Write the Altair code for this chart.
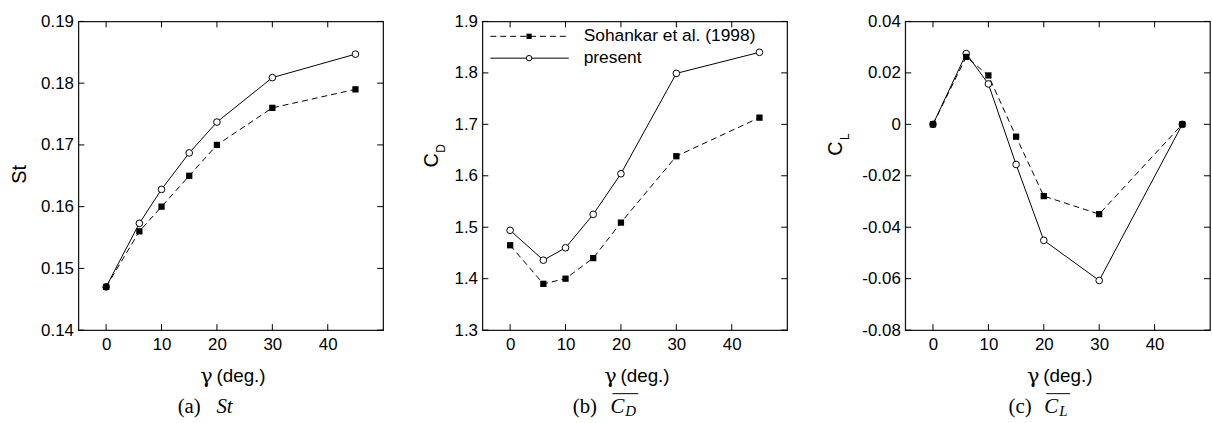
import altair as alt
import pandas as pd

# ---------------- data ----------------
gamma = [0, 6, 10, 15, 20, 30, 45]
series_names = ["Sohankar et al. (1998)", "present"]

st_sohankar = [0.147, 0.156, 0.160, 0.165, 0.170, 0.176, 0.179]
st_present = [0.147, 0.1573, 0.1628, 0.1687, 0.1737, 0.1809, 0.1847]

cd_sohankar = [1.465, 1.390, 1.400, 1.440, 1.509, 1.638, 1.713]
cd_present = [1.494, 1.436, 1.460, 1.525, 1.604, 1.799, 1.840]

cl_sohankar = [0.0, 0.0262, 0.0190, -0.0048, -0.0279, -0.0349, 0.0]
cl_present = [0.0, 0.0275, 0.0157, -0.0156, -0.0451, -0.0607, 0.0]

x_ticks = [0, 10, 20, 30, 40]
st_ticks = [0.14, 0.15, 0.16, 0.17, 0.18, 0.19]
cd_ticks = [1.3, 1.4, 1.5, 1.6, 1.7, 1.8, 1.9]
cl_ticks = [-0.08, -0.06, -0.04, -0.02, 0.0, 0.02, 0.04]

x_title_symbol = "γ"
x_title_rest = "(deg.)"

# ---------------- layout / style ----------------
W, H = 307, 311
SANS = "Liberation Sans"
SERIF = "Liberation Serif"
TICK = 6
DASH = [6, 4]


def txt(x, y, s, size, font=SANS, angle=0, style="normal", align="center", baseline="middle"):
    return alt.Chart(pd.DataFrame({"t": [s]})).mark_text(
        font=font, fontSize=size, fontStyle=style, angle=angle, align=align,
        baseline=baseline, color="black"
    ).encode(x=alt.value(x), y=alt.value(y), text="t:N")


def hrule(x1, x2, y, dash=None, width=1.0, color="black"):
    kw = dict(color=color, strokeWidth=width)
    if dash:
        kw["strokeDash"] = dash
    return alt.Chart(pd.DataFrame({"k": [0]})).mark_rule(**kw).encode(
        x=alt.value(x1), x2=alt.value(x2), y=alt.value(y))


def panel(soh, pre, ydom, yticks, yexpr, ytitle_layers, caption_layers, anchor, legend=False):
    xs = alt.Scale(domain=[-5, 50], nice=False, zero=False)
    ys = alt.Scale(domain=ydom, nice=False, zero=False)
    xa = alt.Axis(values=x_ticks, ticks=False, domain=False, grid=False,
                  labelPadding=7, format="d", title=None)
    ya = alt.Axis(values=yticks, ticks=False, domain=False, grid=False,
                  labelPadding=5, labelExpr=yexpr, title=None)
    X = alt.X("g:Q", scale=xs, axis=xa)
    Y = alt.Y("v:Q", scale=ys, axis=ya)

    d_soh = pd.DataFrame({"g": gamma, "v": soh})
    d_pre = pd.DataFrame({"g": gamma, "v": pre})
    d_xt = pd.DataFrame({"g": x_ticks})
    d_yt = pd.DataFrame({"v": yticks})
    one = pd.DataFrame({"k": [0]})

    layers = [
        # invisible layout anchor (left / top / bottom extent of the panel)
        alt.Chart(one).mark_rule(color="white", strokeWidth=1).encode(
            x=alt.value(-anchor), y=alt.value(-18), y2=alt.value(405)),
        # inward ticks
        alt.Chart(d_yt).mark_rule(color="black", strokeWidth=1).encode(
            y=Y, x=alt.value(0), x2=alt.value(TICK)),
        alt.Chart(d_yt).mark_rule(color="black", strokeWidth=1).encode(
            y=Y, x=alt.value(W - TICK), x2=alt.value(W)),
        alt.Chart(d_xt).mark_rule(color="black", strokeWidth=1).encode(
            x=X, y=alt.value(H - TICK), y2=alt.value(H)),
        alt.Chart(d_xt).mark_rule(color="black", strokeWidth=1).encode(
            x=X, y=alt.value(0), y2=alt.value(TICK)),
        # series lines
        alt.Chart(d_soh).mark_line(color="black", strokeWidth=1, strokeDash=DASH).encode(x=X, y=Y),
        alt.Chart(d_pre).mark_line(color="black", strokeWidth=1).encode(x=X, y=Y),
        # markers
        alt.Chart(d_pre).mark_point(shape="circle", fill="white", stroke="black",
                                    strokeWidth=1, size=45, opacity=1).encode(x=X, y=Y),
        alt.Chart(d_soh).mark_square(color="black", size=40, opacity=1).encode(x=X, y=Y),
        # x title
        txt(129, H + 47, x_title_symbol, 21, font="DejaVu Serif"),
        txt(139, H + 46, x_title_rest, 19, align="left"),
    ]
    layers += ytitle_layers + caption_layers
    if legend:
        layers += [
            hrule(8, 87, 15, dash=DASH),
            alt.Chart(one).mark_square(color="black", size=28, opacity=1).encode(
                x=alt.value(47), y=alt.value(15)),
            hrule(8, 87, 37),
            alt.Chart(one).mark_point(shape="circle", fill="white", stroke="black",
                                      strokeWidth=1, size=30, opacity=1).encode(
                x=alt.value(47), y=alt.value(37)),
            txt(102, 15, series_names[0], 17.5, align="left"),
            txt(102, 37, series_names[1], 17.5, align="left"),
        ]
    return alt.layer(*layers).properties(width=W, height=H)


CAP = 21
cap_y = 388

pa = panel(
    st_sohankar, st_present, [0.14, 0.19], st_ticks,
    "format(datum.value, '.2f')",
    [txt(-59, 154, "St", 20, angle=270)],
    [txt(100, cap_y, "(a)", CAP, font=SERIF, align="left"),
     txt(139, cap_y, "St", CAP, font=SERIF, style="italic", align="left")],
    anchor=77,
)

pb = panel(
    cd_sohankar, cd_present, [1.3, 1.9], cd_ticks,
    "format(datum.value, '.1f')",
    [txt(-51, 140, "C", 20, angle=270),
     txt(-42, 128, "D", 12, angle=270)],
    [txt(91, cap_y, "(b)", CAP, font=SERIF, align="left"),
     txt(129, cap_y, "C", CAP, font=SERIF, style="italic", align="left"),
     txt(144, cap_y + 5, "D", 15, font=SERIF, style="italic", align="left"),
     hrule(131, 157, cap_y - 13, width=1)],
    anchor=90,
    legend=True,
)

pc = panel(
    cl_sohankar, cl_present, [-0.08, 0.04], cl_ticks,
    "datum.value == 0 ? '0' : (datum.value < 0 ? '-' + format(-datum.value, '.2f') : format(datum.value, '.2f'))",
    [txt(-70, 128, "C", 20, angle=270),
     txt(-61, 116, "L", 12, angle=270)],
    [txt(104, cap_y, "(c)", CAP, font=SERIF, align="left"),
     txt(140, cap_y, "C", CAP, font=SERIF, style="italic", align="left"),
     txt(155, cap_y + 5, "L", 15, font=SERIF, style="italic", align="left"),
     hrule(142, 166, cap_y - 13, width=1)],
    anchor=109,
)

chart = alt.hconcat(pa, pb, pc, spacing=6).properties(
    padding=0, background="white"
).configure_view(
    stroke="#1a1a1a", strokeWidth=1.3
).configure_axis(
    labelFont=SANS, labelFontSize=17, labelColor="black"
)

chart.save("out.html", embed_options={"renderer": "svg", "actions": False})
